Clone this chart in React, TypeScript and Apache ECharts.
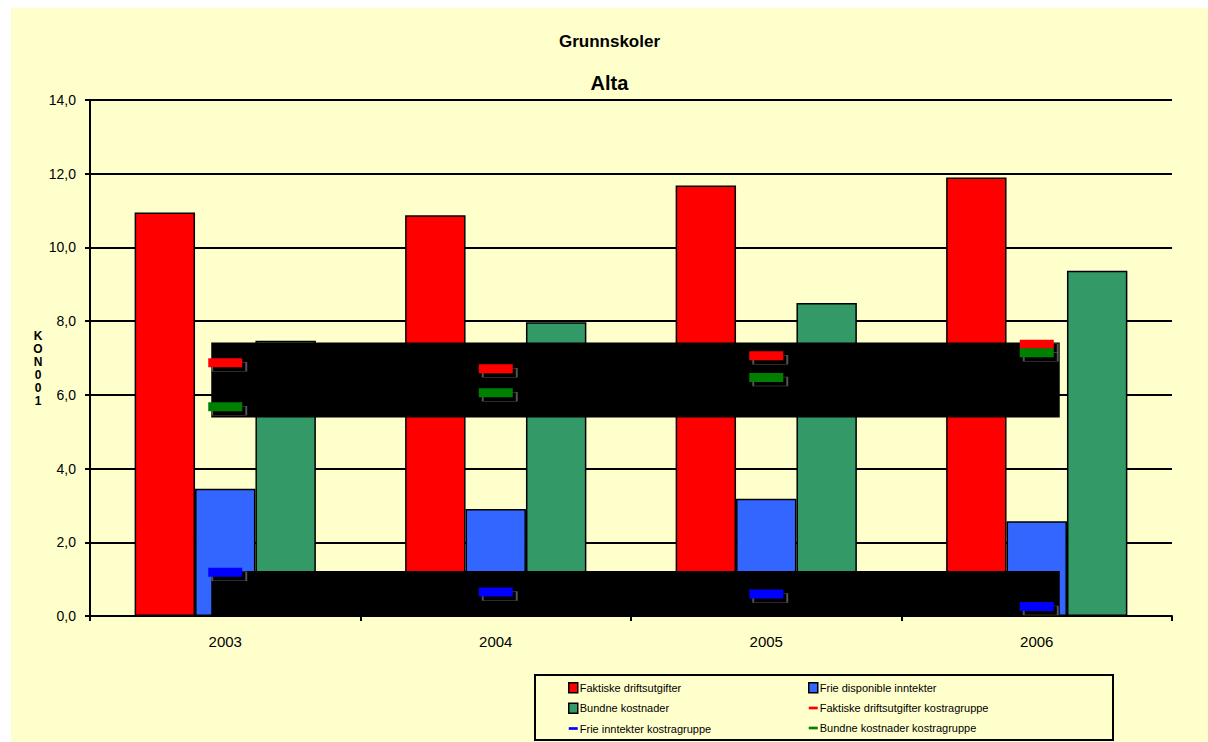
import React, { useEffect, useRef } from "react";
import * as echarts from "echarts";

const categories = ["2003", "2004", "2005", "2006"];
const faktiske = [10.95, 10.87, 11.68, 11.9];
const frie = [3.45, 2.9, 3.18, 2.57];
const bundne = [7.47, 7.97, 8.49, 9.37];
const faktiskeKostra = [6.87, 6.71, 7.06, 7.37];
const frieKostra = [1.19, 0.65, 0.6, 0.26];
const bundneKostra = [5.68, 6.06, 6.47, 7.14];
const blackBands = [
  [5.41, 7.42],
  [0, 1.22],
];

const names = [
  "Faktiske driftsutgifter",
  "Frie disponible inntekter",
  "Bundne kostnader",
  "Faktiske driftsutgifter kostragruppe",
  "Frie inntekter kostragruppe",
  "Bundne kostnader kostragruppe",
];

const FONT = "'Liberation Sans', Arial, sans-serif";

export default function App() {
  const ref = useRef<HTMLDivElement>(null);
  useEffect(() => {
    if (!ref.current) return;
    const chart = echarts.init(ref.current, undefined, { renderer: "svg" });
    const barStyle = (c: string) => ({ color: c, borderColor: "#000", borderWidth: 1.5 });
    const markerSeries = (name: string, data: number[], color: string) => ({
      name,
      type: "line",
      data,
      z: 5,
      symbol: "rect",
      symbolSize: [34, 9],
      showSymbol: true,
      lineStyle: { opacity: 0, width: 0 },
      itemStyle: { color, borderWidth: 0 },
    });
    const shadowSeries = (data: number[]) => ({
      type: "line",
      data,
      z: 4,
      symbol: "rect",
      symbolSize: [34, 9],
      symbolOffset: [4, 4],
      lineStyle: { opacity: 0, width: 0 },
      itemStyle: { color: "none", borderColor: "#555", borderWidth: 1 },
      silent: true,
    });
    const lineIcon = "path://M0,0 L10,0 L10,3 L0,3 Z";
    const legendCommon = {
      orient: "vertical",
      top: 669,
      height: 70,
      itemWidth: 9,
      itemHeight: 10,
      itemGap: 9,
      textStyle: { fontSize: 11, color: "#000", fontFamily: FONT, padding: [0, 0, 0, -3] },
      selectedMode: false,
    };
    chart.setOption({
      animation: false,
      backgroundColor: "#FFFFCC",
      textStyle: { fontFamily: FONT },
      title: [
        {
          text: "Grunnskoler",
          left: "center",
          top: 20,
          textStyle: { fontSize: 17, fontWeight: "bold", color: "#000", fontFamily: FONT },
        },
        {
          text: "Alta",
          left: "center",
          top: 60,
          textStyle: { fontSize: 20, fontWeight: "bold", color: "#000", fontFamily: FONT },
        },
      ],
      grid: { left: 79, top: 92, width: 1082, height: 516, containLabel: false },
      xAxis: {
        type: "category",
        data: categories,
        axisLine: { lineStyle: { color: "#000", width: 2 } },
        axisTick: { show: true, length: 5, lineStyle: { color: "#000", width: 2 } },
        axisLabel: { color: "#000", fontSize: 15, margin: 18, fontFamily: FONT },
      },
      yAxis: {
        type: "value",
        min: 0,
        max: 14,
        interval: 2,
        axisLine: { show: true, lineStyle: { color: "#000", width: 2 } },
        axisTick: { show: true, length: 5, lineStyle: { color: "#000", width: 2 } },
        axisLabel: {
          color: "#000",
          fontSize: 14,
          margin: 14,
          fontFamily: FONT,
          formatter: (v: number) => v.toFixed(1).replace(".", ","),
        },
        splitLine: { show: true, lineStyle: { color: "#000", width: 2 } },
      },
      legend: [
        {
          ...legendCommon,
          left: 552,
          data: [
            { name: names[0], icon: "rect", itemStyle: barStyle("#FF0000") },
            { name: names[2], icon: "rect", itemStyle: barStyle("#339966") },
            { name: names[4], icon: lineIcon, itemStyle: { color: "#0000FF", borderWidth: 0 } },
          ],
        },
        {
          ...legendCommon,
          left: 792,
          data: [
            { name: names[1], icon: "rect", itemStyle: barStyle("#3366FF") },
            { name: names[3], icon: lineIcon, itemStyle: { color: "#FF0000", borderWidth: 0 } },
            { name: names[5], icon: lineIcon, itemStyle: { color: "#008000", borderWidth: 0 } },
          ],
        },
      ],
      graphic: [
        {
          type: "rect",
          shape: { x: 524, y: 667, width: 578, height: 65 },
          style: { fill: "none", stroke: "#000", lineWidth: 2 },
          z: 10,
        },
        {
          type: "text",
          x: 27,
          y: 360,
          style: {
            text: "K\nO\nN\n0\n0\n1",
            font: `bold 12px ${FONT}`,
            fill: "#000",
            align: "center",
            verticalAlign: "middle",
            lineHeight: 13,
          },
        },
      ],
      series: [
        {
          name: names[0],
          type: "bar",
          data: faktiske,
          barGap: "0%",
          barCategoryGap: "33%",
          itemStyle: barStyle("#FF0000"),
          z: 2,
        },
        { name: names[1], type: "bar", data: frie, itemStyle: barStyle("#3366FF"), z: 2 },
        { name: names[2], type: "bar", data: bundne, itemStyle: barStyle("#339966"), z: 2 },
        {
          type: "custom",
          z: 3,
          silent: true,
          data: blackBands.map((b) => [0, b[0], b[1]]),
          encode: { x: 0, y: [1, 2] },
          renderItem: (params: any, api: any) => {
            const lo = api.value(1);
            const hi = api.value(2);
            const p1 = api.coord([0, hi]);
            const p2 = api.coord([categories.length - 1, lo]);
            const x0 = p1[0] - 14;
            const x1 = p2[0] + 23;
            return {
              type: "rect",
              shape: { x: x0, y: p1[1], width: x1 - x0, height: p2[1] - p1[1] + 1 },
              style: { fill: "#000" },
            };
          },
        },
        shadowSeries(faktiskeKostra),
        shadowSeries(frieKostra),
        shadowSeries(bundneKostra),
        markerSeries(names[3], faktiskeKostra, "#FF0000"),
        markerSeries(names[4], frieKostra, "#0000FF"),
        markerSeries(names[5], bundneKostra, "#008000"),
      ],
    });
    return () => chart.dispose();
  }, []);
  return (
    <div
      ref={ref}
      style={{ position: "absolute", left: 11, top: 8, width: 1197, height: 734 }}
    />
  );
}
